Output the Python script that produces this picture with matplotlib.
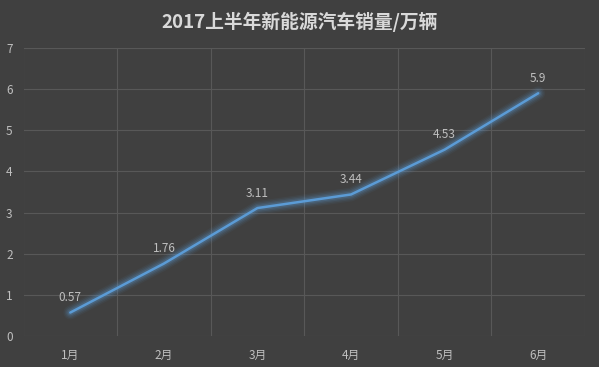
import matplotlib.pyplot as plt

plt.rcParams['font.family'] = ['Noto Sans CJK SC', 'DejaVu Sans']

months = ['1月', '2月', '3月', '4月', '5月', '6月']
sales = [0.57, 1.76, 3.11, 3.44, 4.53, 5.9]
title = '2017上半年新能源汽车销量/万辆'

bg = '#404040'
grid_c = '#585858'
text_c = '#bfbfbf'
line_c = '#5b9bd5'

fig = plt.figure(figsize=(5.99, 3.67), dpi=100, facecolor=bg)
ax = fig.add_axes([23.5 / 599, 31 / 367, 561.5 / 599, 288 / 367])
ax.set_facecolor(bg)

x = range(len(months))
# glow under the line
for w, a in [(10, 0.06), (8, 0.09), (6, 0.13), (4, 0.2)]:
    ax.plot(x, sales, color=line_c, lw=w, alpha=a, solid_capstyle='round')
ax.plot(x, sales, color=line_c, lw=1.8, solid_capstyle='round')

for i, v in enumerate(sales):
    ax.annotate(f'{v:g}', (i, v), xytext=(0, 6), textcoords='offset points',
                ha='center', va='bottom', color=text_c, fontsize=8.5)

ax.set_xlim(-0.5, len(months) - 0.5)
ax.set_ylim(0, 7)
ax.set_yticks(range(0, 8))
ax.set_xticks(list(x))
ax.set_xticklabels(months)
ax.set_xticks([i - 0.5 for i in range(len(months) + 1)], minor=True)

ax.grid(axis='y', which='major', color=grid_c, lw=0.8)
ax.grid(axis='x', which='minor', color=grid_c, lw=0.8)
ax.set_axisbelow(True)
for s in ax.spines.values():
    s.set_visible(False)

ax.tick_params(axis='both', which='both', length=0, colors=text_c, labelsize=8.5)
ax.tick_params(axis='x', pad=9)
for lab in ax.get_yticklabels():
    lab.set_horizontalalignment('left')
ax.yaxis.set_tick_params(pad=12.5)

fig.text(0.5, 1 - 21.5 / 367, title, ha='center', va='center', color='#d9d9d9',
         fontsize=13.5, fontweight='bold')

fig.savefig('out.png', dpi=100, facecolor=bg)
